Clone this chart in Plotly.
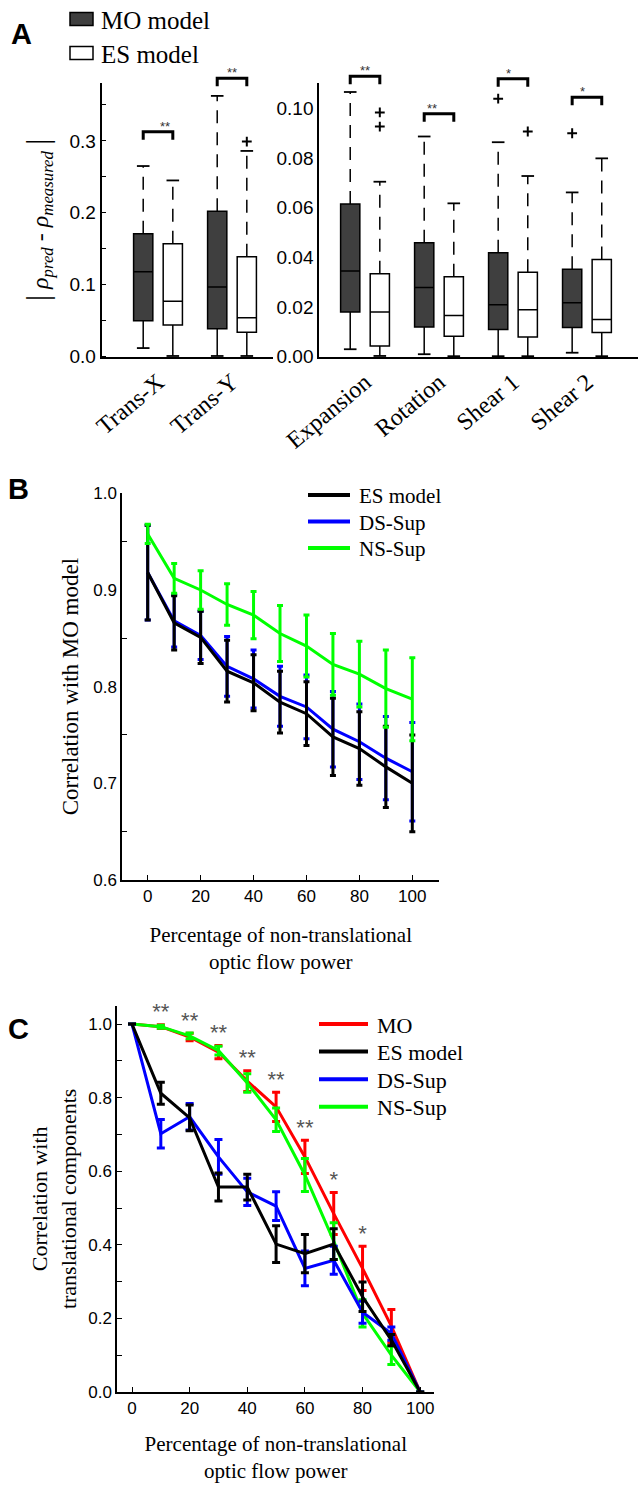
import plotly.graph_objects as go

W, H = 638, 1486
SERIF = "Liberation Serif"
SANS = "Liberation Sans"

# ---- panel A data (box statistics) ----
groups_left = ["Trans-X", "Trans-Y"]
groups_right = ["Expansion", "Rotation", "Shear 1", "Shear 2"]

mo_q1 = [0.050, 0.039, 0.0180, 0.0119, 0.0109, 0.0117]
mo_med = [0.118, 0.097, 0.0345, 0.0278, 0.0209, 0.0217]
mo_q3 = [0.171, 0.202, 0.0614, 0.0458, 0.0418, 0.0352]
mo_lo = [0.012, 0.001, 0.0030, 0.0010, 0.0002, 0.0016]
mo_hi = [0.265, 0.3625, 0.1065, 0.0886, 0.0863, 0.0661]
mo_out = [[], [], [], [], [0.1038], [0.0899]]

es_q1 = [0.044, 0.034, 0.0043, 0.0082, 0.0079, 0.0097]
es_med = [0.077, 0.054, 0.0180, 0.0166, 0.0189, 0.0150]
es_q3 = [0.157, 0.139, 0.0334, 0.0322, 0.0340, 0.0391]
es_lo = [0.001, 0.001, 0.0003, 0.0002, 0.0002, 0.0002]
es_hi = [0.245, 0.286, 0.0704, 0.0617, 0.0727, 0.0798]
es_out = [[], [0.299], [0.0983, 0.0926], [], [0.0906], []]

sig_labels = ["**", "**", "**", "**", "*", "*"]
sig_height = [0.3125, 0.387, 0.1128, 0.0977, 0.1118, 0.1044]

# ---- panel B data ----
pct = [0, 10, 20, 30, 40, 50, 60, 70, 80, 90, 100]
b_es = [0.918, 0.866, 0.851, 0.816, 0.804, 0.784, 0.772, 0.748, 0.736, 0.717, 0.700]
b_es_err = [0.049, 0.028, 0.027, 0.032, 0.029, 0.032, 0.033, 0.040, 0.038, 0.042, 0.050]
b_ds = [0.918, 0.868, 0.853, 0.821, 0.808, 0.790, 0.779, 0.756, 0.743, 0.726, 0.712]
b_ds_err = [0.049, 0.027, 0.025, 0.031, 0.030, 0.031, 0.033, 0.039, 0.039, 0.043, 0.051]
b_ns = [0.958, 0.912, 0.900, 0.885, 0.874, 0.855, 0.842, 0.823, 0.813, 0.798, 0.787]
b_ns_err = [0.010, 0.0155, 0.020, 0.0215, 0.0245, 0.029, 0.032, 0.032, 0.034, 0.040, 0.043]

# ---- panel C data ----
c_mo = [1.0, 0.993, 0.965, 0.924, 0.845, 0.775, 0.639, 0.485, 0.336, 0.179, 0.0]
c_mo_err = [0, 0.005, 0.010, 0.018, 0.028, 0.040, 0.045, 0.057, 0.060, 0.045, 0]
c_es = [1.0, 0.812, 0.745, 0.557, 0.557, 0.402, 0.376, 0.402, 0.259, 0.141, 0.0]
c_es_err = [0, 0.030, 0.035, 0.038, 0.035, 0.050, 0.052, 0.042, 0.040, 0.015, 0]
c_ds = [1.0, 0.702, 0.748, 0.639, 0.544, 0.505, 0.336, 0.358, 0.217, 0.159, 0.0]
c_ds_err = [0, 0.039, 0.036, 0.047, 0.037, 0.039, 0.047, 0.038, 0.030, 0.018, 0]
c_ns = [1.0, 0.993, 0.968, 0.928, 0.840, 0.740, 0.590, 0.410, 0.214, 0.100, 0.0]
c_ns_err = [0, 0.004, 0.008, 0.012, 0.025, 0.032, 0.045, 0.050, 0.037, 0.025, 0]
c_stars = ["**", "**", "**", "**", "**", "**", "*", "*"]

# ---- geometry (pixels) ----
def xd(a, b):
    return [a / W, b / W]


def yd(top, bottom):
    return [1 - bottom / H, 1 - top / H]


def px(x):
    return x / W


def py(y):
    return 1 - y / H


A_L_X = (101.7, 273.0)
A_R_X = (319.3, 638.0)
A_Y = (83.3, 356.7)
A_L_RANGE = [-0.761, 1.554]
A_R_RANGE = [-0.618, 3.69]
A_L_YR = [0, 0.38]
A_R_YR = [0, 0.110]
OFF = 0.2
BOXW = 0.26

n_left = len(groups_left)
pos_mo = [i - OFF for i in range(n_left)] + [i - OFF for i in range(len(groups_right))]
pos_es = [i + OFF for i in range(n_left)] + [i + OFF for i in range(len(groups_right))]

fig = go.Figure()
shapes = []
annotations = []


def add_boxes(q1, med, q3, lo, hi, outs, pos, fill):
    for ax, yax, sl in (("x", "y", slice(0, n_left)), ("x2", "y2", slice(n_left, None))):
        fig.add_trace(go.Box(
            x=pos[sl], q1=q1[sl], median=med[sl], q3=q3[sl],
            lowerfence=q1[sl], upperfence=q3[sl], width=BOXW,
            fillcolor=fill, line=dict(color="black", width=1.5),
            showlegend=False, xaxis=ax, yaxis=yax, hoverinfo="skip"))
        xs_up, ys_up, xs_lo, ys_lo = [], [], [], []
        for p, a, b, c, d in zip(pos[sl], q3[sl], hi[sl], q1[sl], lo[sl]):
            xs_up += [p, p, None]
            ys_up += [a, b, None]
            xs_lo += [p, p, None]
            ys_lo += [c, d, None]
        fig.add_trace(go.Scatter(x=xs_up, y=ys_up, mode="lines", showlegend=False,
                                 line=dict(color="black", width=1.5, dash="13px,9px"),
                                 xaxis=ax, yaxis=yax, hoverinfo="skip"))
        fig.add_trace(go.Scatter(x=xs_lo, y=ys_lo, mode="lines", showlegend=False,
                                 line=dict(color="black", width=1.5),
                                 xaxis=ax, yaxis=yax, hoverinfo="skip"))
        fig.add_trace(go.Scatter(x=pos[sl] + pos[sl], y=hi[sl] + lo[sl], mode="markers",
                                 showlegend=False, cliponaxis=False,
                                 marker=dict(symbol="line-ew", size=9,
                                             line=dict(color="black", width=1.8)),
                                 xaxis=ax, yaxis=yax, hoverinfo="skip"))
        ox, oy = [], []
        for p, vals in zip(pos[sl], outs[sl]):
            ox += [p] * len(vals)
            oy += vals
        fig.add_trace(go.Scatter(x=ox, y=oy, mode="markers", showlegend=False,
                                 marker=dict(symbol="cross-thin", size=7,
                                             line=dict(color="black", width=2)),
                                 xaxis=ax, yaxis=yax, hoverinfo="skip"))


MO_FILL = "#3f3f3f"
add_boxes(mo_q1, mo_med, mo_q3, mo_lo, mo_hi, mo_out, pos_mo, MO_FILL)
add_boxes(es_q1, es_med, es_q3, es_lo, es_hi, es_out, pos_es, "white")


# significance brackets (paper space so they may sit above the axes)
def data_x(v, dom, rng):
    return (dom[0] + (v - rng[0]) / (rng[1] - rng[0]) * (dom[1] - dom[0])) / W


def data_y(v, rng):
    pix = A_Y[1] - (v - rng[0]) / (rng[1] - rng[0]) * (A_Y[1] - A_Y[0])
    return 1 - pix / H


for i, (lab, hgt) in enumerate(zip(sig_labels, sig_height)):
    left = i < n_left
    xdom = A_L_X if left else A_R_X
    xr = A_L_RANGE if left else A_R_RANGE
    yr = A_L_YR if left else A_R_YR
    x0 = data_x(pos_mo[i], xdom, xr)
    x1 = data_x(pos_es[i], xdom, xr)
    ytop = data_y(hgt, yr)
    leg = 8 / H
    shapes.append(dict(type="path", xref="paper", yref="paper",
                       path=f"M{x0},{ytop - leg} L{x0},{ytop} L{x1},{ytop} L{x1},{ytop - leg}",
                       line=dict(color="black", width=3)))
    annotations.append(dict(x=(x0 + x1) / 2, y=ytop, xref="paper", yref="paper",
                            text=lab, showarrow=False, yanchor="bottom", yshift=-4,
                            font=dict(family=SANS, size=13, color="#333")))

# legend of panel A (drawn by hand, boxes + labels)
for j, (name, fill) in enumerate((("MO model", MO_FILL), ("ES model", "white"))):
    cy = 19 + j * 34
    shapes.append(dict(type="rect", xref="paper", yref="paper",
                       x0=px(70), x1=px(93), y0=py(cy + 6.5), y1=py(cy - 6.5),
                       fillcolor=fill, line=dict(color="black", width=1.5)))
    annotations.append(dict(x=px(99), y=py(cy + 1), xref="paper", yref="paper", text=name,
                            showarrow=False, xanchor="left", yanchor="middle",
                            font=dict(family=SERIF, size=25, color="black")))

# ---- panel B ----
b_series = [("ES model", b_es, b_es_err, "black"),
            ("DS-Sup", b_ds, b_ds_err, "#0000ff"),
            ("NS-Sup", b_ns, b_ns_err, "#00ff00")]
for name, ys, err, col in [b_series[1], b_series[0], b_series[2]]:
    fig.add_trace(go.Scatter(
        x=pct, y=ys, name=name, mode="lines", showlegend=False,
        line=dict(color=col, width=3),
        error_y=dict(type="data", array=err, color=col, thickness=3, width=3),
        xaxis="x3", yaxis="y3"))
for j, (name, _, _, col) in enumerate(b_series):
    cy = 495 + j * 26.5
    shapes.append(dict(type="line", xref="paper", yref="paper", x0=px(308), x1=px(350),
                       y0=py(cy), y1=py(cy), line=dict(color=col, width=4)))
    annotations.append(dict(x=px(357), y=py(cy + 1), xref="paper", yref="paper", text=name,
                            showarrow=False, xanchor="left", yanchor="middle",
                            font=dict(family=SERIF, size=21, color="black")))

# ---- panel C ----
c_series = [("MO", c_mo, c_mo_err, "#ff0000"),
            ("ES model", c_es, c_es_err, "black"),
            ("DS-Sup", c_ds, c_ds_err, "#0000ff"),
            ("NS-Sup", c_ns, c_ns_err, "#00ff00")]
for name, ys, err, col in [c_series[0], c_series[3], c_series[2], c_series[1]]:
    fig.add_trace(go.Scatter(
        x=pct, y=ys, name=name, mode="lines", showlegend=False,
        line=dict(color=col, width=3),
        error_y=dict(type="data", array=err, color=col, thickness=3, width=4),
        xaxis="x4", yaxis="y4"))
for j, (name, _, _, col) in enumerate(c_series):
    cy = 1024 + j * 27.6
    shapes.append(dict(type="line", xref="paper", yref="paper", x0=px(319), x1=px(368),
                       y0=py(cy), y1=py(cy), line=dict(color=col, width=4)))
    annotations.append(dict(x=px(375), y=py(cy + 1), xref="paper", yref="paper", text=name,
                            showarrow=False, xanchor="left", yanchor="middle",
                            font=dict(family=SERIF, size=22, color="black")))

star_x = pct[1:1 + len(c_stars)]
star_y = [m + e + 0.03 for m, e in zip(c_mo[1:], c_mo_err[1:])][:len(c_stars)]
fig.add_trace(go.Scatter(x=star_x, y=star_y, text=c_stars, mode="text", showlegend=False,
                         cliponaxis=False, textposition="middle center",
                         textfont=dict(family=SANS, size=22, color="#555"),
                         xaxis="x4", yaxis="y4", hoverinfo="skip"))

# panel letters
for lab, cx, cy in (("A", 21, 34), ("B", 18, 489), ("C", 18, 1029)):
    annotations.append(dict(x=px(cx), y=py(cy), xref="paper", yref="paper", text=lab,
                            showarrow=False,
                            font=dict(family=SANS, size=29, color="black", weight="bold"),
                            xanchor="center", yanchor="middle"))

axis_common = dict(showline=True, linecolor="black", linewidth=2, showgrid=False,
                   zeroline=False, tickcolor="black", mirror=False, automargin=False)
tick_a = dict(family=SANS, size=19, color="black")
tick_bc = dict(family=SANS, size=17, color="black")
title_font = dict(family=SERIF, size=21, color="black")

fig.update_layout(
    width=W, height=H, margin=dict(l=0, r=0, t=0, b=0),
    paper_bgcolor="white", plot_bgcolor="white",
    boxmode="overlay", showlegend=False,
    shapes=shapes, annotations=annotations,
    xaxis=dict(axis_common, domain=xd(*A_L_X), range=A_L_RANGE, anchor="y",
               tickvals=list(range(n_left)), ticktext=groups_left, ticks="",
               tickangle=-40, tickfont=dict(family=SERIF, size=24, color="black")),
    yaxis=dict(axis_common, domain=yd(*A_Y), range=A_L_YR, anchor="x",
               tickvals=[0, 0.1, 0.2, 0.3], tickformat=".1f", ticks="",
               minor=dict(ticks="inside", ticklen=4, dtick=0.05, tickcolor="black"),
               tickfont=tick_a,
               title=dict(text="<span style='font-size:32px'>|</span> <i>ρ</i><sub><i>pred</i></sub>"
                               " - <i>ρ</i><sub><i>measured</i></sub> <span style='font-size:32px'>|</span>",
                          font=dict(family=SERIF, size=24, color="black"), standoff=14)),
    xaxis2=dict(axis_common, domain=xd(*A_R_X), range=A_R_RANGE, anchor="y2",
                tickvals=list(range(len(groups_right))), ticktext=groups_right, ticks="",
                tickangle=-40, tickfont=dict(family=SERIF, size=24, color="black")),
    yaxis2=dict(axis_common, domain=yd(*A_Y), range=A_R_YR, anchor="x2",
                tickvals=[0, 0.02, 0.04, 0.06, 0.08, 0.10], tickformat=".2f", ticks="",
                tickfont=tick_a),
    xaxis3=dict(axis_common, domain=xd(122.3, 439.3), range=[-9.6, 110.2], anchor="y3",
                tickvals=pct[::2], ticks="inside", ticklen=5, tickfont=tick_bc,
                title=dict(text="Percentage of non-translational<br>optic flow power",
                           font=title_font, standoff=22)),
    yaxis3=dict(axis_common, domain=yd(493.3, 880), range=[0.6, 1.0], anchor="x3",
                dtick=0.1, tickformat=".1f", ticks="",
                minor=dict(ticks="inside", ticklen=5, dtick=0.05, tickcolor="black"),
                tickfont=tick_bc,
                title=dict(text="Correlation with MO model",
                           font=dict(family=SERIF, size=23, color="black"), standoff=8)),
    xaxis4=dict(axis_common, domain=xd(117.3, 434.3), range=[-5.1, 104.9], anchor="y4",
                tickvals=pct[::2], ticks="inside", ticklen=5, tickfont=tick_bc,
                title=dict(text="Percentage of non-translational<br>optic flow power",
                           font=title_font, standoff=19)),
    yaxis4=dict(axis_common, domain=yd(1005.7, 1392), range=[0, 1.05], anchor="x4",
                tickvals=[0, 0.2, 0.4, 0.6, 0.8, 1.0], tickformat=".1f", ticks="inside", ticklen=5,
                minor=dict(ticks="inside", ticklen=5, dtick=0.1, tickcolor="black"),
                tickfont=tick_bc,
                title=dict(text="Correlation with<br>translational components",
                           font=dict(family=SERIF, size=22, color="black"), standoff=6)),
)

# drop the page's default body margin so the figure sits at the window's corner
fig.write_html("out.html", config={"displayModeBar": False},
               post_script="document.body.style.margin='0';")
